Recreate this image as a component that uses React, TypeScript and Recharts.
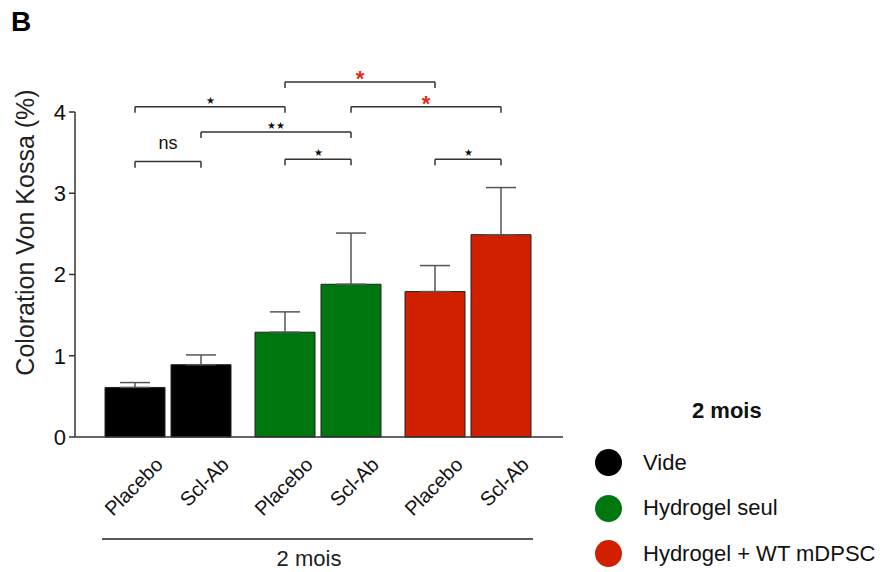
import { BarChart, Bar, XAxis, YAxis, Cell, ErrorBar, ReferenceLine, Label } from 'recharts';

const groups = ['Vide', 'Hydrogel seul', 'Hydrogel + WT mDPSC'];
const groupColors = ['#000000', '#00760F', '#D02000'];
const treatments = ['Placebo', 'Scl-Ab'];
const placeboMeans = [0.61, 1.29, 1.79];
const placeboErrors = [0.06, 0.25, 0.32];
const sclAbMeans = [0.89, 1.88, 2.49];
const sclAbErrors = [0.12, 0.63, 0.58];
const yTicks = [0, 1, 2, 3, 4];

// significance brackets, bar index = group * 2 + treatment
const bracketFrom = [2, 0, 3, 1, 0, 2, 4];
const bracketTo = [4, 2, 5, 3, 1, 3, 5];
const bracketLevels = [4.37, 4.065, 4.065, 3.755, 3.39, 3.42, 3.42];
const bracketLabels = ['*', '★', '*', '★★', 'ns', '★', '★'];
const bracketRed = [true, false, true, false, false, false, false];

const data = groups.map((g, i) => ({
  group: g,
  pos: i,
  placebo: placeboMeans[i],
  placeboErr: [0, placeboErrors[i]],
  sclAb: sclAbMeans[i],
  sclAbErr: [0, sclAbErrors[i]],
}));

const BAND = 150;
const BAR = 60;
const GAP = 6;
const PAD_L = 18;
const PAD_R = 20;
const OFFSET = (BAR + GAP) / 2 / BAND;
const TICK = 0.075;
const RED = '#E8261A';
const AXIS = '#333';

const barPos = (b: number) => Math.floor(b / 2) + (b % 2 === 0 ? -OFFSET : OFFSET);

function labelProps(text: string, red: boolean) {
  if (red) return { value: text, position: 'top' as const, offset: -4, fill: RED, fontSize: 22, fontWeight: 700 };
  if (text === 'ns') return { value: text, position: 'top' as const, offset: 13, fill: '#111', fontSize: 18 };
  return { value: text, position: 'top' as const, offset: 3, fill: '#111', fontSize: 10 };
}

const GroupTick = (props: any) => {
  const { x, y } = props;
  const dx = OFFSET * BAND;
  return (
    <g>
      {treatments.map((t, i) => {
        const cx = x + (i === 0 ? -dx : dx) + 29;
        const cy = y + 21;
        return (
          <text key={t} x={cx} y={cy} textAnchor="end" fontSize={20} fill="#111"
            transform={`rotate(-45 ${cx} ${cy})`}>
            {t}
          </text>
        );
      })}
    </g>
  );
};

const AxisCaption = (props: any) => {
  const { x, y, width } = props.viewBox;
  return (
    <g>
      <line x1={x + 27} x2={x + width - 30} y1={y + 102} y2={y + 102} stroke="#222" strokeWidth={1.5} />
      <text x={x + 234} y={y + 129} textAnchor="middle" fontSize={22} fill="#222">2 mois</text>
    </g>
  );
};

const YCaption = (props: any) => {
  const { x, y, height } = props.viewBox;
  const cx = x + 34;
  const cy = y + height / 2 - 42;
  return (
    <text x={cx} y={cy} textAnchor="middle" fontSize={25} fill="#222"
      transform={`rotate(-90 ${cx} ${cy})`}>
      Coloration Von Kossa (%)
    </text>
  );
};

export default function App() {
  return (
    <div style={{ position: 'absolute', left: 0, top: 0, width: 884, height: 572, background: '#fff', overflow: 'hidden', fontFamily: '"Liberation Sans", Arial, sans-serif' }}>
      <div style={{ position: 'absolute', left: 11, top: 6, fontSize: 28, fontWeight: 700, color: '#000' }}>B</div>

      <BarChart width={884} height={572} data={data} margin={{ top: 112, right: 321, bottom: 0, left: 0 }}
        barSize={BAR} barGap={GAP}>
        <XAxis dataKey="group" height={135} padding={{ left: PAD_L, right: PAD_R }} tickLine={false}
          axisLine={{ stroke: AXIS, strokeWidth: 1.5 }} tick={<GroupTick />} interval={0}>
          <Label content={<AxisCaption />} />
        </XAxis>
        <XAxis xAxisId="pos" dataKey="pos" type="number" domain={['dataMin', 'dataMax']}
          padding={{ left: PAD_L + BAND / 2, right: PAD_R + BAND / 2 }} hide />
        <YAxis width={75} domain={[0, 4]} ticks={yTicks} tickSize={6} tickMargin={3}
          axisLine={{ stroke: AXIS, strokeWidth: 1.5 }} tickLine={{ stroke: AXIS, strokeWidth: 1.5 }}
          tick={{ fontSize: 22, fill: '#111' }}>
          <Label content={<YCaption />} />
        </YAxis>

        <Bar dataKey="placebo" stroke="#222" strokeWidth={1} isAnimationActive={false}>
          {data.map((d, i) => <Cell key={d.group} fill={groupColors[i]} />)}
          <ErrorBar dataKey="placeboErr" width={15} stroke="#555" strokeWidth={1.5} direction="y" isAnimationActive={false} />
        </Bar>
        <Bar dataKey="sclAb" stroke="#222" strokeWidth={1} isAnimationActive={false}>
          {data.map((d, i) => <Cell key={d.group} fill={groupColors[i]} />)}
          <ErrorBar dataKey="sclAbErr" width={15} stroke="#555" strokeWidth={1.5} direction="y" isAnimationActive={false} />
        </Bar>

        {bracketLevels.map((lvl, k) => {
          const x1 = barPos(bracketFrom[k]);
          const x2 = barPos(bracketTo[k]);
          return [
            <ReferenceLine key={`h${k}`} xAxisId="pos" ifOverflow="visible" stroke={AXIS} strokeWidth={1.5}
              segment={[{ x: x1, y: lvl }, { x: x2, y: lvl }]} label={labelProps(bracketLabels[k], bracketRed[k])} />,
            <ReferenceLine key={`l${k}`} xAxisId="pos" ifOverflow="visible" stroke={AXIS} strokeWidth={1.5}
              segment={[{ x: x1, y: lvl }, { x: x1, y: lvl - TICK }]} />,
            <ReferenceLine key={`r${k}`} xAxisId="pos" ifOverflow="visible" stroke={AXIS} strokeWidth={1.5}
              segment={[{ x: x2, y: lvl }, { x: x2, y: lvl - TICK }]} />,
          ];
        })}
      </BarChart>

      <div style={{ position: 'absolute', left: 692, top: 398, fontSize: 22, fontWeight: 700, color: '#111' }}>2 mois</div>
      {groups.map((g, i) => (
        <div key={g} style={{ position: 'absolute', left: 595, top: 449 + i * 45.5, height: 27, display: 'flex', alignItems: 'center', whiteSpace: 'nowrap' }}>
          <div style={{ width: 27, height: 27, borderRadius: '50%', background: groupColors[i] }} />
          <span style={{ marginLeft: 21, fontSize: 22, color: '#111' }}>{g}</span>
        </div>
      ))}
    </div>
  );
}
